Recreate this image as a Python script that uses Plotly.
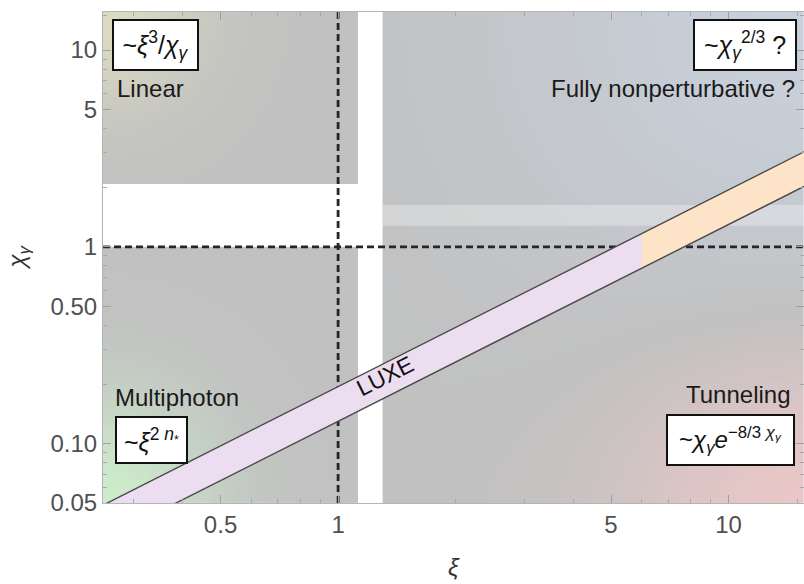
import numpy as np
import plotly.graph_objects as go

# ---------------- data ----------------
xi_range = [0.25, 15.6]
chi_range = [0.05, 15.6]

# gray regime regions: (xi_min, xi_max, chi_min, chi_max)
linear_region = [0.25, 1.125, 2.09, 15.6]
multiphoton_region = [0.25, 1.125, 0.05, 1.0]
strong_region = [1.30, 15.6, 0.05, 15.6]
light_strip = [1.30, 15.6, 1.28, 1.63]

# LUXE band: chi = k * xi
luxe_k_low = 0.13
luxe_k_high = 0.195
luxe_split_xi = 6.0

x_tickvals = [0.5, 1, 5, 10]
x_ticktext = ["0.5", "1", "5", "10"]
x_minor = [0.3, 0.4, 0.6, 0.7, 0.8, 0.9, 2, 3, 4, 6, 7, 8, 9, 15]
y_tickvals = [0.05, 0.1, 0.5, 1, 5, 10]
y_ticktext = ["0.05", "0.10", "0.50", "1", "5", "10"]
y_minor = [0.06, 0.07, 0.08, 0.09, 0.2, 0.3, 0.4, 0.6, 0.7, 0.8, 0.9, 2, 3, 4, 6, 7, 8, 9, 15]

GRAY = "#c1c1c1"
FONT = "Liberation Sans"

# layout geometry (pixels)
W, H = 804, 584
ML, MR, MT, MB = 103, 0, 12, 81
PW, PH = W - ML - MR, H - MT - MB
lx0, lx1 = np.log10(xi_range)
ly0, ly1 = np.log10(chi_range)


def to_px(xi, chi):
    px = (np.log10(xi) - lx0) / (lx1 - lx0) * PW
    py = (np.log10(chi) - ly0) / (ly1 - ly0) * PH
    return px, py


def tint_heatmap(region, corners, colorscale, zmin, zmax, n=70):
    x0, x1, y0, y1 = region
    xe = np.logspace(np.log10(x0), np.log10(x1), n + 1)
    ye = np.logspace(np.log10(y0), np.log10(y1), n + 1)
    xc = np.sqrt(xe[:-1] * xe[1:])
    yc = np.sqrt(ye[:-1] * ye[1:])
    X, Y = np.meshgrid(xc, yc)
    PX, PY = to_px(X, Y)
    z = np.zeros_like(PX)
    for (cx, cy, sigma, sign) in corners:
        cpx, cpy = to_px(cx, cy)
        d2 = (PX - cpx) ** 2 + (PY - cpy) ** 2
        z += sign * np.exp(-d2 / sigma ** 2)
    return go.Heatmap(x=xe, y=ye, z=z, colorscale=colorscale, zmin=zmin, zmax=zmax,
                      zsmooth="best", showscale=False, hoverinfo="skip")


fig = go.Figure()

# background regime regions with soft corner tints
fig.add_trace(tint_heatmap(linear_region, [(xi_range[0], chi_range[1], 95, 1)],
                           [[0, GRAY], [1, "#dcdbc2"]], 0, 1))
fig.add_trace(tint_heatmap(multiphoton_region, [(xi_range[0], chi_range[0], 110, 1)],
                           [[0, GRAY], [1, "#cdeccb"]], 0, 1))
fig.add_trace(tint_heatmap(strong_region,
                           [(xi_range[1], chi_range[1], 300, 1), (xi_range[1], chi_range[0], 190, -1)],
                           [[0, "#ecc7c7"], [0.5, GRAY], [1, "#c8d0db"]], -1, 1))

# lighter strip
sx0, sx1, sy0, sy1 = light_strip
fig.add_trace(go.Scatter(x=[sx0, sx1, sx1, sx0, sx0], y=[sy0, sy0, sy1, sy1, sy0],
                         mode="lines", line=dict(width=0), fill="toself",
                         fillcolor="rgba(255,255,255,0.3)", hoverinfo="skip", showlegend=False))

# dashed reference lines
fig.add_trace(go.Scatter(x=[1, 1], y=chi_range, mode="lines",
                         line=dict(color="#262626", width=2.8, dash="7px,4px"),
                         hoverinfo="skip", showlegend=False))
fig.add_trace(go.Scatter(x=xi_range, y=[1, 1], mode="lines",
                         line=dict(color="#262626", width=2.8, dash="7px,4px"),
                         hoverinfo="skip", showlegend=False))

# LUXE band
xa = np.array([xi_range[0], luxe_split_xi])
xb = np.array([luxe_split_xi, xi_range[1]])
for seg, col in [(xa, "#ecdef0"), (xb, "#fde4c9")]:
    xs = list(seg) + list(seg[::-1]) + [seg[0]]
    ys = list(luxe_k_low * seg) + list(luxe_k_high * seg[::-1]) + [luxe_k_low * seg[0]]
    fig.add_trace(go.Scatter(x=xs, y=ys, mode="lines", line=dict(width=0), fill="toself",
                             fillcolor=col, hoverinfo="skip", showlegend=False))
xl = np.array(xi_range)
for k in [luxe_k_low, luxe_k_high]:
    fig.add_trace(go.Scatter(x=xl, y=k * xl, mode="lines", line=dict(color="#4a4a4a", width=1.4),
                             hoverinfo="skip", showlegend=False))

# ---------------- annotations ----------------
ann = []
L10 = np.log10


def box(x, y, text, xanchor, yanchor, w, h, size=25):
    ann.append(dict(x=x, y=y, xref="x", yref="y", text=text, showarrow=False,
                    xanchor=xanchor, yanchor=yanchor, bgcolor="white",
                    bordercolor="#111", borderwidth=2, borderpad=0, width=w, height=h,
                    font=dict(family=FONT, size=size, color="#111")))


def label(x, y, text, xanchor, yanchor="middle"):
    ann.append(dict(x=x, y=y, xref="x", yref="y", text=text, showarrow=False,
                    xanchor=xanchor, yanchor=yanchor,
                    font=dict(family=FONT, size=24, color="#1a1a1a")))


box(-0.578, 1.157, "~<i>ξ</i><sup>3</sup>/<i>χ<sub>γ</sub></i>", "left", "top", 83, 48)
label(-0.572, 0.805, "Linear", "left")
box(1.176, 1.157, "~<i>χ<sub>γ</sub></i><sup>2/3</sup> ?", "right", "top", 100, 48)
label(1.174, 0.805, "Fully nonperturbative ?", "right")
label(-0.577, -0.766, "Multiphoton", "left")
box(-0.572, -0.858, "~<i>ξ</i><sup>2 <i>n</i><sub>*</sub></sup>", "left", "top", 69, 44)
label(1.165, -0.751, "Tunneling", "right")
box(1.170, -0.848, "~<i>χ<sub>γ</sub>e</i><sup>−8/3 <i>χ<sub>γ</sub></i></sup>", "right", "top", 125, 48, size=24)

# LUXE label along band
luxe_xi = 1.32
ann.append(dict(x=L10(luxe_xi), y=L10(np.sqrt(luxe_k_low * luxe_k_high) * luxe_xi * 1.05),
                xref="x", yref="y", text="LUXE", showarrow=False, textangle=-26.7,
                font=dict(family=FONT, size=23, color="#111")))

# axis titles
ann.append(dict(x=0.5, y=0, xref="paper", yref="paper", text="<i>ξ</i>", showarrow=False,
                yanchor="middle", yshift=-64, font=dict(family=FONT, size=24, color="#333")))
ann.append(dict(x=0, y=0.5, xref="paper", yref="paper", text="<i>χ<sub>γ</sub></i>", showarrow=False,
                xanchor="center", xshift=-85, textangle=-90,
                font=dict(family=FONT, size=24, color="#333")))

axis_common = dict(type="log", showgrid=False, zeroline=False, showline=True, linecolor="#b5b5b5",
                   linewidth=1, mirror="ticks", ticks="inside", ticklen=8, tickcolor="#a0a0a0",
                   tickfont=dict(family=FONT, size=24, color="#505050"))

fig.update_layout(
    width=W, height=H, margin=dict(l=ML, r=MR, t=MT, b=MB),
    paper_bgcolor="white", plot_bgcolor="white", showlegend=False,
    xaxis=dict(range=[lx0, lx1], tickmode="array", tickvals=x_tickvals, ticktext=x_ticktext,
               minor=dict(tickmode="array", tickvals=x_minor, ticks="inside", ticklen=4, tickcolor="#a8a8a8"),
               **axis_common),
    yaxis=dict(range=[ly0, ly1], tickmode="array", tickvals=y_tickvals, ticktext=y_ticktext,
               minor=dict(tickmode="array", tickvals=y_minor, ticks="inside", ticklen=4, tickcolor="#a8a8a8"),
               **axis_common),
    annotations=ann,
)

fig.write_html("out.html")
